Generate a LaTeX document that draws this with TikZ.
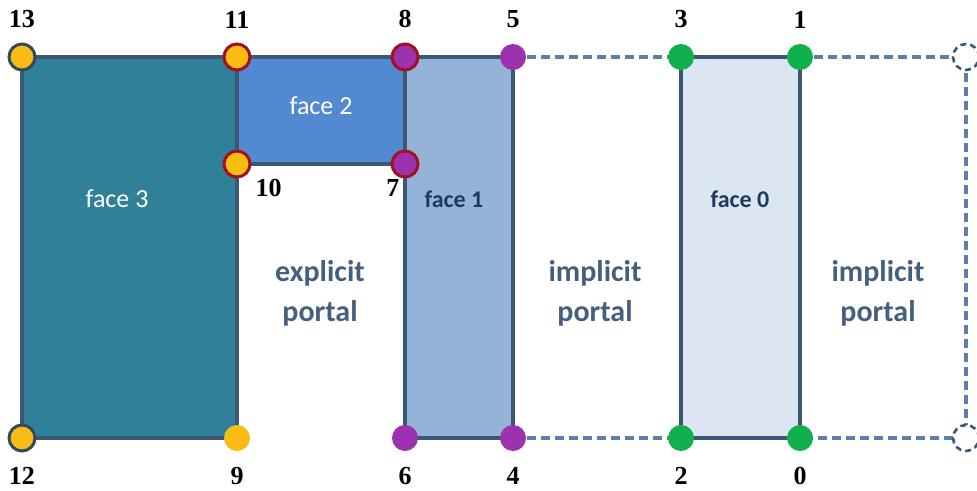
\documentclass[tikz,border=0pt]{standalone}
\usepackage{fontspec}
\setmainfont{Carlito}
\newfontfamily\numfont{Liberation Serif}
\usetikzlibrary{positioning}

\definecolor{edgeblue}{HTML}{3A5775}
\definecolor{dashblue}{HTML}{5B7FA6}
\definecolor{facethree}{HTML}{31809A}
\definecolor{facetwo}{HTML}{5389D0}
\definecolor{faceone}{HTML}{95B3D7}
\definecolor{facezero}{HTML}{DCE6F2}
\definecolor{vyellow}{HTML}{F9BC15}
\definecolor{vpurple}{HTML}{9B33AE}
\definecolor{vgreen}{HTML}{10B04C}
\definecolor{vred}{HTML}{A3111E}
\definecolor{vgray}{HTML}{34495A}
\definecolor{textnavy}{HTML}{1F3A60}
\definecolor{portaltext}{HTML}{45607E}

\begin{document}
\begin{tikzpicture}[
    x=0.5pt, y=-0.5pt,
    % Define simple, standard styles
    vert/.style={circle, minimum size=13pt, inner sep=0pt, line width=1.5pt},
    num/.style={inner sep=0pt, font=\numfont\bfseries\fontsize{13}{13}\selectfont},
    face/.style={draw=edgeblue, line width=2pt, line join=miter},
    portaledge/.style={draw=dashblue, line width=1.6pt, dash pattern=on 4.5pt off 2.5pt},
    facelabel/.style={font=\fontsize{13}{13}\selectfont, text=white},
    darklabel/.style={font=\bfseries\fontsize{12}{12}\selectfont, text=textnavy},
    portal/.style={align=center, font=\bfseries\fontsize{15}{20}\selectfont, text=portaltext}
]
\useasboundingbox (0,0) rectangle (977,491);

% 1. Vertices
\coordinate (v13) at (22,57);   \coordinate (v12) at (22,438);
\coordinate (v11) at (237,57);  \coordinate (v10) at (237,164);
\coordinate (v9) at (237,438);
\coordinate (v8) at (405,57);   \coordinate (v7) at (405,164);
\coordinate (v6) at (405,438);
\coordinate (v5) at (513,57);   \coordinate (v4) at (513,438);
\coordinate (v3) at (681,57);   \coordinate (v2) at (681,438);
\coordinate (v1) at (800,57);   \coordinate (v0) at (800,438);
\coordinate (vr1) at (966,57);  \coordinate (vr0) at (966,438);

% 2. Faces
\draw[face, fill=facethree] (v13) -- (v11) -- (v9) -- (v12) -- cycle;
\draw[face, fill=facetwo] (v11) -- (v8) -- (v7) -- (v10) -- cycle;
\draw[face, fill=faceone] (v8) -- (v5) -- (v4) -- (v6) -- cycle;
\draw[face, fill=facezero] (v3) -- (v1) -- (v0) -- (v2) -- cycle;

% Implicit portal edges
\draw[portaledge] (v5) -- (v3);
\draw[portaledge] (v4) -- (v2);
\draw[portaledge] (v1) -- (vr1) -- (vr0) -- (v0);

% 3. Vertex markers
\node[vert, fill=vyellow, draw=vgray] (n13) at (v13) {};
\node[vert, fill=vyellow, draw=vgray] (n12) at (v12) {};
\node[vert, fill=vyellow, draw=vred] (n11) at (v11) {};
\node[vert, fill=vyellow, draw=vred] (n10) at (v10) {};
\node[vert, fill=vyellow] (n9) at (v9) {};
\node[vert, fill=vpurple, draw=vred] (n8) at (v8) {};
\node[vert, fill=vpurple, draw=vred] (n7) at (v7) {};
\node[vert, fill=vpurple] (n6) at (v6) {};
\node[vert, fill=vpurple] (n5) at (v5) {};
\node[vert, fill=vpurple] (n4) at (v4) {};
\node[vert, fill=vgreen] (n3) at (v3) {};
\node[vert, fill=vgreen] (n2) at (v2) {};
\node[vert, fill=vgreen] (n1) at (v1) {};
\node[vert, fill=vgreen] (n0) at (v0) {};
\node[vert, fill=white, draw=edgeblue, line width=1.3pt, dash pattern=on 3pt off 2pt] (nr1) at (vr1) {};
\node[vert, fill=white, draw=edgeblue, line width=1.3pt, dash pattern=on 3pt off 2pt] (nr0) at (vr0) {};

% Vertex numbers
\node[num, above=7pt of n13] {13};
\node[num, above=7pt of n11] {11};
\node[num, above=7pt of n8] {8};
\node[num, above=7pt of n5] {5};
\node[num, above=7pt of n3] {3};
\node[num, above=7pt of n1] {1};
\node[num, below=7pt of n12] {12};
\node[num, below=7pt of n9] {9};
\node[num, below=7pt of n6] {6};
\node[num, below=7pt of n4] {4};
\node[num, below=7pt of n2] {2};
\node[num, below=7pt of n0] {0};
\node[num, below right=2.5pt and 4pt of n10] {10};
\node[num, below left=2.5pt and -2.5pt of n7] {7};

% 4. Face and portal labels
\node[facelabel] (f3) at (117,199) {face 3};
\node[facelabel] (f2) at (321,106) {face 2};
\node[darklabel] (f1) at (454,199) {face 1};
\node[darklabel] (f0) at (740,199) {face 0};
\node[portal] (p0) at (320,293) {explicit\\portal};
\node[portal] (p1) at (595,293) {implicit\\portal};
\node[portal] (p2) at (878,293) {implicit\\portal};

\end{tikzpicture}
\end{document}
